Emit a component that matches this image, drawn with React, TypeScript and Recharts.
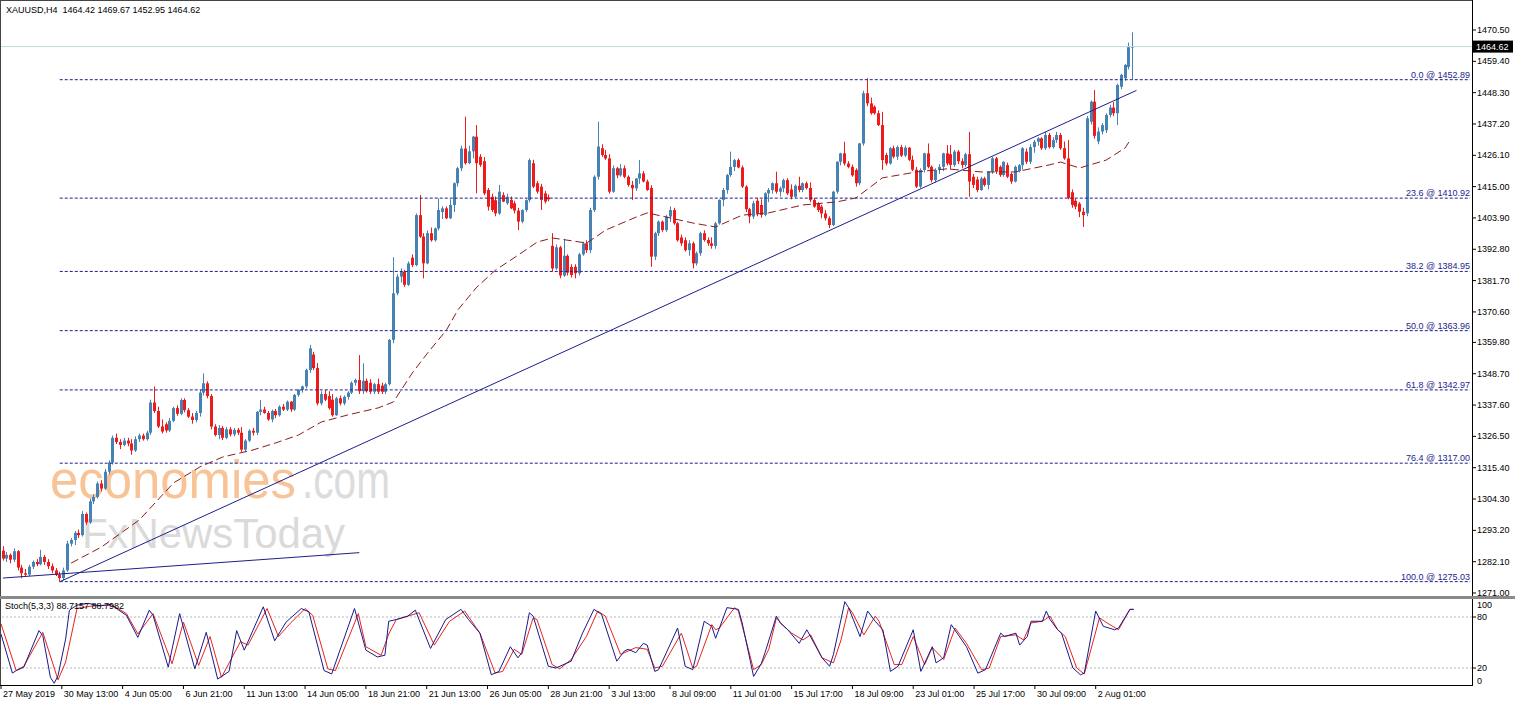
import React from "react";
import { ComposedChart, Bar, Line, XAxis, YAxis, ReferenceLine } from "recharts";

// ---------- data ----------
const header = "XAUUSD,H4  1464.42 1469.67 1452.95 1464.62";
const stochTitle = "Stoch(5,3,3) 88.7157 88.7982";
const lastPrice = 1464.62;

// [open, high, low, close] per H4 bar
const candles: [number, number, number, number][] = [
  [1286.0,1287.6,1282.5,1283.2],[1283.2,1285.5,1282.0,1284.5],[1284.5,1285.0,1281.5,1282.8],[1282.8,1286.8,1282.0,1285.8],[1285.8,1286.2,1279.0,1280.0],
  [1280.0,1281.0,1276.2,1278.0],[1278.0,1279.5,1276.8,1277.5],[1277.5,1281.0,1277.0,1280.3],[1280.3,1282.5,1279.5,1282.0],[1282.0,1283.0,1280.5,1281.2],
  [1281.2,1286.3,1280.8,1283.8],[1283.8,1284.5,1281.0,1282.0],[1282.0,1283.0,1279.5,1280.5],[1280.5,1281.5,1278.0,1279.0],[1279.0,1279.8,1277.0,1277.5],
  [1277.5,1278.5,1275.0,1276.3],[1276.3,1280.0,1275.5,1279.0],[1279.0,1289.5,1278.5,1288.5],[1288.5,1290.5,1287.5,1289.8],[1289.8,1293.0,1288.0,1292.3],
  [1292.3,1293.5,1290.5,1291.5],[1291.5,1300.0,1291.0,1299.0],[1299.0,1299.5,1295.2,1296.0],[1296.0,1304.5,1295.5,1303.5],[1303.5,1306.0,1302.5,1305.0],
  [1305.0,1310.5,1304.5,1309.8],[1309.8,1311.0,1307.0,1308.0],[1308.0,1315.0,1307.5,1314.0],[1314.0,1318.0,1313.0,1317.2],[1317.2,1326.8,1316.5,1326.0],
  [1326.0,1327.5,1323.8,1324.5],[1324.5,1325.5,1322.0,1323.5],[1323.5,1326.0,1323.0,1325.0],[1325.0,1326.0,1323.0,1324.0],[1324.0,1325.5,1320.0,1321.5],
  [1321.5,1326.5,1321.0,1325.5],[1325.5,1327.5,1324.5,1326.8],[1326.8,1327.5,1325.0,1325.5],[1325.5,1328.5,1325.0,1327.8],[1327.8,1339.5,1327.0,1338.5],
  [1338.5,1344.2,1334.8,1335.5],[1335.5,1337.0,1329.5,1330.0],[1330.0,1332.5,1327.5,1328.2],[1330.8,1331.5,1327.8,1328.6],[1328.6,1333.0,1328.0,1332.0],
  [1332.0,1337.0,1331.5,1336.5],[1336.5,1337.5,1333.8,1334.5],[1334.5,1340.0,1334.0,1339.4],[1339.4,1340.0,1335.0,1335.8],[1335.8,1336.5,1333.0,1333.5],
  [1333.5,1334.8,1331.0,1332.3],[1332.3,1335.5,1331.5,1334.8],[1334.8,1343.0,1333.5,1342.0],[1342.0,1348.8,1341.0,1345.3],[1345.3,1346.0,1340.0,1340.8],
  [1340.8,1341.5,1329.0,1330.0],[1330.0,1330.8,1326.5,1327.0],[1327.0,1330.5,1325.5,1329.5],[1329.5,1330.2,1325.2,1326.0],[1326.0,1329.8,1325.5,1329.0],
  [1329.0,1329.8,1326.5,1327.2],[1327.2,1329.5,1326.5,1328.8],[1328.8,1329.5,1327.0,1327.8],[1327.8,1329.8,1321.0,1321.8],[1321.8,1325.5,1321.0,1325.0],
  [1325.0,1329.0,1324.5,1328.5],[1328.5,1329.5,1326.8,1327.8],[1327.8,1335.5,1327.0,1335.2],[1335.2,1339.4,1334.0,1336.0],[1336.0,1337.0,1334.5,1334.8],
  [1334.8,1335.5,1332.0,1332.5],[1332.5,1336.0,1331.5,1335.5],[1335.5,1336.2,1333.0,1334.0],[1334.0,1337.5,1333.5,1337.0],[1337.0,1338.0,1335.5,1336.0],
  [1336.0,1339.2,1335.5,1338.8],[1338.8,1339.0,1335.2,1336.0],[1336.0,1341.5,1335.5,1341.2],[1341.2,1343.2,1340.5,1343.0],[1343.0,1344.5,1342.0,1344.2],
  [1344.2,1350.5,1343.5,1350.0],[1350.0,1358.9,1349.0,1357.7],[1355.5,1356.5,1350.0,1350.7],[1350.7,1352.5,1337.5,1338.2],[1338.2,1342.5,1337.5,1341.5],
  [1341.5,1343.0,1339.0,1339.5],[1340.8,1342.5,1336.0,1336.5],[1339.5,1341.5,1333.5,1334.0],[1334.0,1340.5,1333.8,1340.0],[1340.0,1341.0,1337.5,1338.2],
  [1338.2,1341.0,1337.5,1340.5],[1340.5,1342.5,1339.5,1342.0],[1342.0,1346.0,1341.5,1345.5],[1345.5,1347.0,1344.5,1346.5],[1346.5,1355.3,1341.5,1342.5],
  [1342.5,1352.4,1341.5,1346.2],[1346.2,1347.0,1342.0,1342.5],[1345.5,1346.8,1341.5,1342.3],[1342.3,1345.5,1341.5,1345.0],[1345.0,1347.0,1341.5,1342.3],
  [1344.5,1345.5,1341.5,1342.3],[1342.3,1345.5,1341.5,1345.0],[1345.0,1361.0,1344.5,1360.7],[1360.7,1390.0,1359.5,1377.2],[1377.2,1384.0,1376.5,1383.1],
  [1383.1,1386.0,1381.0,1384.9],[1384.9,1385.5,1379.5,1380.2],[1380.2,1388.5,1379.8,1387.8],[1389.8,1391.0,1386.5,1387.2],[1387.2,1405.5,1386.8,1404.9],
  [1404.9,1412.0,1396.8,1397.3],[1397.3,1398.5,1382.5,1387.8],[1387.8,1399.5,1387.5,1398.5],[1398.5,1400.5,1395.5,1396.0],[1396.0,1400.5,1395.5,1400.2],
  [1400.2,1410.8,1399.5,1406.7],[1406.0,1408.0,1403.5,1407.3],[1407.3,1408.0,1403.5,1403.8],[1403.8,1410.5,1403.5,1408.5],[1408.5,1416.5,1406.0,1416.2],
  [1416.2,1422.0,1415.0,1421.5],[1421.5,1429.5,1420.5,1428.5],[1428.5,1439.8,1422.8,1423.3],[1423.3,1429.5,1423.0,1427.5],[1427.5,1433.0,1425.0,1432.7],
  [1432.7,1436.8,1412.6,1423.3],[1425.6,1426.5,1422.0,1422.7],[1424.0,1425.5,1412.0,1412.6],[1413.8,1414.5,1406.5,1407.9],[1411.4,1412.5,1406.0,1406.7],
  [1410.2,1411.5,1404.5,1405.5],[1405.5,1415.6,1405.0,1413.2],[1412.0,1413.0,1409.5,1409.7],[1409.1,1412.5,1408.5,1411.4],[1410.3,1411.5,1407.0,1407.3],
  [1409.1,1410.0,1405.5,1406.5],[1406.5,1407.5,1399.6,1402.6],[1402.6,1407.0,1402.0,1406.7],[1406.7,1410.5,1406.0,1410.2],[1410.2,1425.0,1409.5,1424.4],
  [1423.3,1424.5,1414.5,1415.0],[1416.2,1417.0,1412.5,1413.2],[1415.0,1416.0,1406.7,1410.3],[1412.6,1413.5,1409.0,1409.7],[1411.2,1412.2,1409.8,1410.5],
  [1394.0,1398.5,1385.0,1386.0],[1386.0,1394.5,1385.5,1393.5],[1393.5,1394.0,1382.5,1383.5],[1383.5,1396.5,1383.0,1390.5],[1390.5,1391.0,1383.5,1384.5],
  [1386.5,1387.5,1382.8,1383.7],[1386.6,1387.5,1382.5,1384.3],[1384.3,1391.5,1383.5,1391.0],[1391.0,1395.5,1390.5,1394.9],[1394.9,1396.0,1391.5,1392.5],
  [1392.5,1407.5,1391.5,1406.7],[1406.7,1419.0,1406.0,1418.5],[1418.5,1438.0,1417.5,1429.2],[1428.6,1430.0,1425.5,1426.2],[1426.2,1428.0,1424.5,1425.0],
  [1425.0,1426.5,1412.5,1413.2],[1413.2,1422.5,1412.8,1421.5],[1421.5,1422.0,1418.0,1419.0],[1419.0,1423.0,1418.5,1421.5],[1421.5,1422.5,1418.0,1418.5],
  [1418.5,1419.0,1415.0,1415.6],[1415.6,1417.0,1410.3,1414.4],[1414.4,1418.0,1413.5,1417.9],[1417.9,1424.4,1416.0,1419.7],[1419.7,1420.5,1416.5,1416.8],
  [1416.8,1417.5,1413.5,1413.8],[1414.5,1415.5,1386.6,1390.2],[1390.2,1399.0,1389.0,1398.5],[1398.5,1403.0,1397.5,1402.6],[1402.6,1403.0,1399.0,1399.6],
  [1399.6,1405.0,1399.0,1404.4],[1404.4,1408.0,1402.5,1406.7],[1406.7,1407.5,1401.5,1402.0],[1402.0,1402.5,1395.5,1396.0],[1397.0,1398.0,1394.0,1394.9],
  [1396.0,1397.0,1392.0,1392.5],[1392.5,1396.0,1390.5,1394.9],[1394.9,1395.5,1386.0,1387.8],[1387.8,1392.0,1387.0,1391.4],[1391.4,1399.0,1390.5,1398.5],
  [1398.5,1399.5,1395.5,1396.1],[1396.1,1397.0,1394.0,1394.9],[1394.9,1397.0,1393.0,1394.0],[1394.0,1402.5,1393.0,1402.0],[1402.0,1410.5,1401.5,1410.3],
  [1410.3,1414.5,1408.0,1413.8],[1413.8,1419.5,1412.5,1419.1],[1419.1,1427.4,1418.5,1422.0],[1422.0,1424.8,1420.5,1424.4],[1424.4,1425.0,1421.5,1421.8],
  [1421.8,1422.5,1414.5,1415.0],[1415.0,1415.5,1406.0,1407.0],[1407.0,1407.5,1402.0,1404.4],[1404.4,1410.0,1403.5,1409.1],[1410.0,1411.0,1404.5,1405.5],
  [1408.5,1410.5,1404.0,1405.0],[1405.0,1413.0,1404.5,1412.6],[1412.6,1414.5,1409.5,1413.8],[1413.8,1416.5,1412.5,1416.2],[1416.2,1420.3,1412.5,1413.2],
  [1413.2,1415.0,1411.5,1414.4],[1414.4,1417.8,1413.0,1417.3],[1417.3,1418.0,1412.0,1412.6],[1414.0,1415.8,1410.5,1411.4],[1411.4,1415.8,1411.0,1415.3],
  [1415.3,1418.5,1413.0,1413.8],[1413.8,1416.5,1413.0,1416.2],[1416.2,1416.8,1414.0,1414.5],[1414.5,1416.5,1409.5,1410.3],[1410.3,1411.0,1407.5,1407.9],
  [1409.0,1409.5,1406.0,1406.7],[1407.9,1408.5,1403.8,1405.5],[1405.5,1406.7,1403.0,1403.8],[1403.8,1404.5,1400.3,1401.4],[1401.4,1413.5,1401.0,1413.2],
  [1413.2,1424.0,1412.5,1423.8],[1423.8,1427.0,1422.5,1426.8],[1426.8,1430.9,1422.5,1423.2],[1423.2,1424.0,1421.5,1422.0],[1422.0,1422.8,1418.5,1419.0],
  [1420.9,1421.5,1415.0,1416.2],[1416.2,1430.5,1415.5,1430.3],[1430.3,1449.0,1429.5,1448.1],[1448.1,1453.4,1443.5,1444.5],[1444.5,1446.5,1440.5,1441.0],
  [1443.3,1443.8,1440.5,1441.0],[1441.0,1442.0,1436.5,1436.8],[1436.8,1441.5,1420.9,1424.4],[1426.2,1427.0,1422.5,1423.2],[1423.2,1429.0,1422.8,1428.6],
  [1428.6,1429.5,1425.0,1425.6],[1425.6,1429.5,1424.5,1429.0],[1429.0,1429.8,1425.5,1426.0],[1426.0,1429.5,1425.5,1428.8],[1428.8,1429.0,1424.0,1424.5],
  [1424.5,1426.0,1420.5,1421.0],[1421.0,1422.0,1414.5,1415.0],[1415.0,1421.5,1414.5,1420.9],[1420.9,1427.0,1420.0,1426.8],[1426.8,1430.3,1421.5,1422.0],
  [1422.0,1422.5,1416.5,1417.3],[1417.3,1421.5,1416.5,1420.9],[1420.9,1423.0,1419.5,1422.0],[1422.0,1427.0,1420.5,1426.8],[1426.8,1429.7,1422.5,1423.2],
  [1426.5,1429.7,1421.0,1422.7],[1422.7,1428.0,1422.0,1427.4],[1427.4,1428.0,1423.0,1424.0],[1424.0,1425.0,1421.5,1422.7],[1422.7,1427.0,1422.0,1426.5],
  [1426.5,1434.4,1411.4,1416.8],[1418.5,1419.5,1414.5,1415.6],[1417.5,1418.5,1413.0,1413.8],[1413.8,1418.5,1413.5,1417.9],[1417.9,1418.5,1415.0,1415.6],
  [1415.6,1420.5,1414.0,1420.3],[1420.3,1425.5,1419.5,1425.0],[1425.0,1425.5,1419.5,1420.3],[1422.0,1422.5,1418.5,1419.1],[1419.1,1424.0,1418.5,1423.8],
  [1422.6,1423.5,1418.0,1418.5],[1419.5,1420.0,1416.0,1416.8],[1416.8,1422.5,1416.5,1422.0],[1420.5,1423.0,1420.0,1422.6],[1422.6,1429.0,1421.0,1428.6],
  [1427.4,1428.5,1423.0,1423.8],[1423.8,1430.0,1423.0,1429.0],[1429.0,1431.5,1427.0,1430.9],[1430.9,1432.5,1429.5,1432.1],[1432.1,1432.5,1428.0,1428.6],
  [1428.6,1434.4,1428.0,1433.3],[1433.3,1434.0,1428.5,1429.0],[1429.0,1432.5,1428.5,1431.5],[1431.5,1434.4,1430.5,1433.3],[1433.3,1434.0,1428.0,1428.6],
  [1428.6,1431.0,1424.5,1425.0],[1425.0,1431.5,1410.5,1411.0],[1413.0,1414.0,1407.5,1408.5],[1410.0,1410.8,1407.0,1407.9],[1409.0,1409.5,1404.2,1406.1],
  [1406.1,1407.5,1400.7,1404.9],[1405.5,1440.0,1404.5,1439.2],[1438.0,1445.5,1437.0,1445.1],[1445.1,1449.2,1432.0,1433.0],[1431.0,1436.0,1430.0,1434.5],
  [1434.5,1437.5,1433.5,1436.8],[1435.0,1441.0,1434.0,1440.4],[1440.4,1444.0,1439.5,1443.0],[1443.0,1445.0,1440.0,1441.0],[1441.0,1451.5,1436.8,1451.0],
  [1450.4,1455.0,1449.5,1454.6],[1453.4,1458.5,1452.5,1458.1],[1457.4,1466.0,1456.5,1464.42],[1464.42,1469.67,1452.95,1464.62],
];

// dashed moving average, read at [bar index, price]
const maPoints: [number, number][] = [
  [18,1281.6],[26,1287.3],[36,1296.9],[45,1310.0],[52,1315.7],[58,1319.2],[66,1321.7],[72,1324.2],[78,1327.0],[84,1331.6],
  [91,1334.1],[99,1336.6],[103,1338.7],[108,1349.0],[112,1356.0],[117,1364.2],[120,1371.3],[125,1379.4],[130,1385.5],[134,1389.0],
  [141,1395.4],[145,1396.8],[154,1395.0],[159,1399.6],[167,1404.2],[170,1405.7],[176,1403.9],[182,1402.1],[188,1400.7],[195,1404.9],
  [202,1405.7],[211,1408.5],[220,1409.6],[225,1411.0],[232,1418.1],[241,1420.2],[249,1421.3],[258,1420.2],[267,1420.2],[276,1422.7],
  [279,1423.7],[284,1421.6],[291,1424.4],[296,1428.7],[297,1430.8],
];

// trend lines: [bar index, price]
const trendMain: [number, number][] = [[15, 1275.0], [299, 1449.1]];
const trendLow: [number, number][] = [[0, 1276.3], [94, 1285.3]];

// Fibonacci retracement
const fibLevels = ["0.0", "23.6", "38.2", "50.0", "61.8", "76.4", "100.0"];
const fibPrices = [1452.89, 1410.92, 1384.95, 1363.96, 1342.97, 1317.0, 1275.03];

const priceTicks = [1470.5, 1459.4, 1448.3, 1437.2, 1426.1, 1415.0, 1403.9, 1392.8, 1381.7, 1370.6,
  1359.8, 1348.7, 1337.6, 1326.5, 1315.4, 1304.3, 1293.2, 1282.1, 1271.0];
const stochTicks = [100, 80, 20, 0];
const stochLevels = [80, 20];

const timeLabels = ["27 May 2019", "30 May 13:00", "4 Jun 05:00", "6 Jun 21:00", "11 Jun 13:00", "14 Jun 05:00",
  "18 Jun 21:00", "21 Jun 13:00", "26 Jun 05:00", "28 Jun 21:00", "3 Jul 13:00", "8 Jul 09:00", "11 Jul 01:00",
  "15 Jul 17:00", "18 Jul 09:00", "23 Jul 01:00", "25 Jul 17:00", "30 Jul 09:00", "2 Aug 01:00"];

// stochastic %K and %D read at [bar index, value]
const stochK: [number, number][] = [
  [0,60],[3,14],[4,17],[6,21],[10,64],[11,58],[13,9],[14,2],[15,11],[17,54],[18,88],[20,94],[23,96],[26,93],[29,95],[31,88],
  [33,82],[36,56],[39,88],[40,82],[44,21],[47,84],[51,19],[54,62],[57,7],[60,16],[62,64],[64,41],[69,92],[72,52],[75,74],
  [79,90],[81,86],[85,17],[87,13],[93,90],[96,41],[99,33],[101,35],[102,75],[104,77],[107,81],[109,88],[113,43],[117,77],
  [121,89],[123,77],[126,61],[129,12],[131,16],[134,45],[136,32],[137,38],[139,85],[140,81],[144,22],[146,20],[150,28],
  [153,61],[156,89],[158,83],[162,28],[164,40],[165,42],[167,38],[169,49],[170,47],[172,16],[173,18],[178,67],[180,22],
  [182,18],[185,75],[187,69],[188,55],[191,91],[194,89],[195,73],[198,10],[200,25],[201,38],[204,81],[205,73],[207,65],
  [210,49],[212,65],[216,32],[218,22],[219,36],[222,98],[223,91],[226,57],[228,87],[230,75],[232,65],[234,16],[236,22],
  [240,65],[242,16],[245,45],[246,26],[248,32],[250,71],[254,45],[257,14],[259,18],[263,61],[264,57],[267,61],[268,47],
  [270,57],[271,75],[274,75],[275,87],[276,77],[278,65],[279,61],[282,20],[284,12],[285,14],[288,87],[290,69],[293,65],
  [294,67],[297,89],[298,89],
];
const stochD: [number, number][] = [
  [0,72],[4,17],[6,22],[11,62],[15,6],[17,27],[20,90],[24,93],[28,94],[30,92],[33,84],[36,60],[40,84],[45,25],[48,74],
  [52,23],[55,57],[58,9],[63,51],[65,47],[70,90],[73,57],[76,72],[80,90],[82,82],[86,19],[88,17],[94,84],[96,45],[100,35],
  [102,60],[104,77],[110,85],[114,47],[118,75],[122,87],[126,61],[130,14],[132,16],[135,42],[137,36],[140,79],[141,77],
  [145,24],[147,19],[150,30],[154,57],[157,87],[159,81],[163,36],[167,44],[170,42],[172,20],[174,22],[179,61],[182,20],
  [183,22],[187,71],[188,65],[189,67],[193,91],[194,87],[198,18],[200,24],[202,42],[204,79],[206,69],[208,61],[211,53],
  [213,59],[216,32],[219,26],[221,53],[223,91],[224,85],[227,59],[230,81],[231,75],[235,24],[237,24],[240,57],[243,24],
  [245,44],[248,30],[251,67],[254,49],[258,18],[260,20],[263,57],[267,59],[269,53],[271,73],[274,75],[276,81],[278,65],
  [280,57],[283,20],[285,13],[289,79],[291,73],[294,65],[297,89],[298,89],
];

// ---------- layout ----------
const W = 1515;
const AXIS_X = 1472;
const SLOTS = 388;
const LABEL_STEP = 16;
const FIB_START = 15;
const MAIN_H = 600;
const PRICE_DOMAIN: [number, number] = [1268.52, 1481.13];
const FONT = "'Liberation Sans', Arial, sans-serif";
const UP = "#4682b4";
const DOWN = "#ee1b1b";
const NAVY = "#1e1e8e";

const maMap = new Map(maPoints);
const t1Map = new Map(trendMain);
const t2Map = new Map(trendLow);
const kMap = new Map(stochK);
const dMap = new Map(stochD);

const rows = Array.from({ length: SLOTS }, (_, i) => {
  const cd = candles[i];
  return {
    i,
    o: cd ? cd[0] : null,
    h: cd ? cd[1] : null,
    l: cd ? cd[2] : null,
    c: cd ? cd[3] : null,
    range: cd ? [cd[2], cd[1]] : null,
    ma: maMap.has(i) ? maMap.get(i) : null,
    t1: t1Map.has(i) ? t1Map.get(i) : null,
    t2: t2Map.has(i) ? t2Map.get(i) : null,
    k: kMap.has(i) ? kMap.get(i) : null,
    d: dMap.has(i) ? dMap.get(i) : null,
  };
});
const labelIdx = timeLabels.map((_, n) => n * LABEL_STEP);

const Candle = (props: any) => {
  const { x, y, width, height, payload } = props;
  if (!payload || payload.o == null) return null;
  const { o, h, l, c } = payload;
  const top = Math.min(y, y + height);
  const hh = Math.abs(height);
  const k = h - l > 0 ? hh / (h - l) : 0;
  const yo = top + (h - o) * k;
  const yc = top + (h - c) * k;
  const col = c >= o ? UP : DOWN;
  const cx = Math.round(x + width / 2) + 0.5;
  const bt = Math.min(yo, yc);
  const bh = Math.max(1, Math.abs(yc - yo));
  return (
    <g>
      <line x1={cx} x2={cx} y1={top} y2={top + hh} stroke={col} strokeWidth={1} />
      <rect x={cx - 1.5} y={bt} width={3} height={bh} fill={col} />
    </g>
  );
};

const PriceTick = (props: any) => {
  const { y, payload } = props;
  return (
    <g>
      <line x1={AXIS_X} x2={AXIS_X + 4} y1={y} y2={y} stroke="#000" />
      <text x={AXIS_X + 5} y={y + 3} fontSize={9} fontFamily={FONT} fill="#000">
        {Number(payload.value).toFixed(2)}
      </text>
    </g>
  );
};

const StochTick = (props: any) => {
  const { y, payload } = props;
  const v = payload.value;
  const dy = v === 100 ? 8 : v === 0 ? -1 : 3;
  return (
    <g>
      {v !== 100 && v !== 0 && <line x1={AXIS_X} x2={AXIS_X + 4} y1={y} y2={y} stroke="#000" />}
      <text x={AXIS_X + 5} y={y + dy} fontSize={9} fontFamily={FONT} fill="#000">{v}</text>
    </g>
  );
};

const TimeTick = (props: any) => {
  const { x, payload } = props;
  const n = labelIdx.indexOf(Number(payload.value));
  if (n < 0) return null;
  return (
    <g>
      <line x1={x} x2={x} y1={85} y2={89} stroke="#000" />
      <text x={x + 2} y={97} fontSize={9} fontFamily={FONT} fill="#000">{timeLabels[n]}</text>
    </g>
  );
};

const FibLabel = (props: any) => {
  const vb = props.viewBox || {};
  return (
    <text x={(vb.x || 0) + (vb.width || 0)} y={(vb.y || 0) - 2} textAnchor="end" fontSize={9} fontFamily={FONT} fill={NAVY}>
      {props.text}
    </text>
  );
};

const PriceTag = (props: any) => {
  const vb = props.viewBox || {};
  const y = vb.y || 0;
  return (
    <g>
      <rect x={AXIS_X + 1} y={y - 6} width={40} height={12} fill="#000" />
      <text x={AXIS_X + 4} y={y + 3.5} fontSize={9} fontFamily={FONT} fill="#fff">{lastPrice.toFixed(2)}</text>
    </g>
  );
};

export default function App() {
  return (
    <div style={{ position: "absolute", left: 0, top: 0, width: W, height: 706, background: "#fff", overflow: "hidden" }}>
      {/* watermark */}
      <svg width={W} height={706} style={{ position: "absolute", left: 0, top: 0 }}>
        <text x={50} y={498} fontSize={53} fontFamily={FONT} textLength={246} lengthAdjust="spacingAndGlyphs" fill="#f8c497">economies</text>
        <text x={302} y={498} fontSize={53} fontFamily={FONT} textLength={88} lengthAdjust="spacingAndGlyphs" fill="#dcdcdc">.com</text>
        <text x={82} y={548} fontSize={42} fontFamily={FONT} textLength={263} lengthAdjust="spacingAndGlyphs" fill="#dadada">FxNewsToday</text>
      </svg>

      <div style={{ position: "absolute", left: 0, top: 0 }}>
        <ComposedChart width={W} height={MAIN_H} data={rows} margin={{ top: 0, right: 0, bottom: 0, left: 1 }}>
          <XAxis dataKey="i" type="category" hide />
          <YAxis orientation="right" width={W - AXIS_X} domain={PRICE_DOMAIN} allowDataOverflow ticks={priceTicks}
            interval={0} axisLine={false} tickLine={false} tick={<PriceTick />} />
          <ReferenceLine y={lastPrice} stroke="#c3dadb" strokeWidth={1} label={<PriceTag />} />
          {fibPrices.map((p, n) => (
            <ReferenceLine key={n} segment={[{ x: FIB_START, y: p }, { x: SLOTS - 1, y: p }]} stroke={NAVY}
              strokeDasharray="3 2" strokeWidth={1} label={<FibLabel text={`${fibLevels[n]} @ ${p.toFixed(2)}`} />} />
          ))}
          <Line type="linear" dataKey="t2" stroke={NAVY} strokeWidth={1} dot={false} connectNulls isAnimationActive={false} />
          <Line type="linear" dataKey="t1" stroke={NAVY} strokeWidth={1} dot={false} connectNulls isAnimationActive={false} />
          <Line type="linear" dataKey="ma" stroke="#8b1c1c" strokeWidth={1} strokeDasharray="8 4" dot={false} connectNulls isAnimationActive={false} />
          <Bar dataKey="range" barSize={3} shape={<Candle />} isAnimationActive={false} />
        </ComposedChart>
      </div>

      <div style={{ position: "absolute", left: 0, top: 600 }}>
        <ComposedChart width={W} height={106} data={rows} margin={{ top: 0, right: 0, bottom: 0, left: 1 }}>
          <XAxis dataKey="i" type="category" height={21} ticks={labelIdx} interval={0} axisLine={false} tickLine={false} tick={<TimeTick />} />
          <YAxis orientation="right" width={W - AXIS_X} domain={[0, 100]} ticks={stochTicks} interval={0}
            axisLine={false} tickLine={false} tick={<StochTick />} />
          {stochLevels.map((v) => (
            <ReferenceLine key={v} y={v} stroke="#b9b9b9" strokeDasharray="2 2" />
          ))}
          <Line type="linear" dataKey="d" stroke="#e8231f" strokeWidth={1} dot={false} connectNulls isAnimationActive={false} />
          <Line type="linear" dataKey="k" stroke="#1a1a8a" strokeWidth={1} dot={false} connectNulls isAnimationActive={false} />
        </ComposedChart>
      </div>

      {/* frame and texts */}
      <svg width={W} height={706} style={{ position: "absolute", left: 0, top: 0, pointerEvents: "none" }}>
        <line x1={0.5} x2={0.5} y1={0} y2={686} stroke="#444" />
        <line x1={0} x2={AXIS_X} y1={0.5} y2={0.5} stroke="#444" />
        <line x1={AXIS_X + 0.5} x2={AXIS_X + 0.5} y1={0} y2={686} stroke="#000" />
        <line x1={0} x2={AXIS_X} y1={685.5} y2={685.5} stroke="#000" />
        <rect x={0} y={596} width={W} height={3} fill="#8a8a8a" />
        <text x={6} y={13} fontSize={9} fontFamily={FONT} fill="#000" style={{ whiteSpace: "pre" }}>{header}</text>
        <text x={5} y={609} fontSize={9} fontFamily={FONT} fill="#000">{stochTitle}</text>
      </svg>
    </div>
  );
}
